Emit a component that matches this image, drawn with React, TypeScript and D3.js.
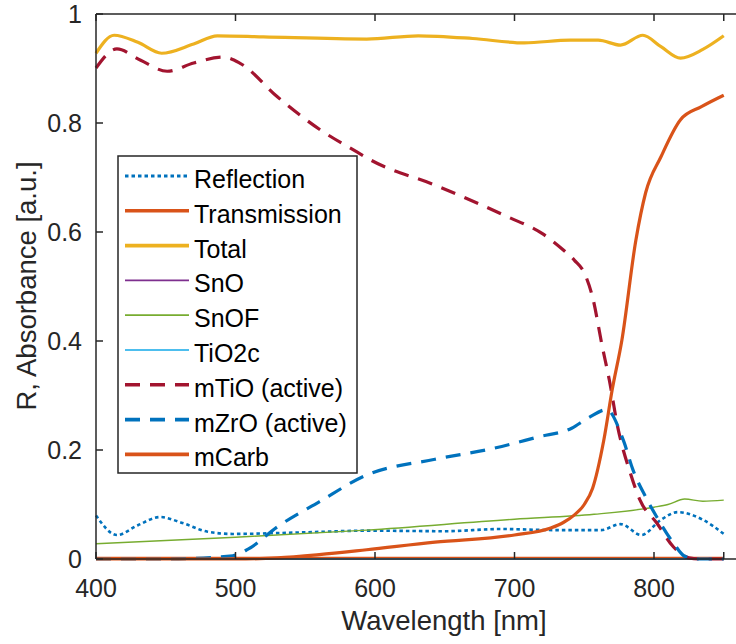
import * as d3 from "d3"

// wavelength grids (nm) and values
const totalX = [400, 413, 430, 447, 470, 487, 520, 594, 631, 670, 707, 740, 760, 776, 792, 805, 819, 835, 850]
const totalY = [0.928, 0.961, 0.948, 0.928, 0.945, 0.96, 0.958, 0.954, 0.96, 0.955, 0.947, 0.952, 0.952, 0.943, 0.961, 0.94, 0.919, 0.935, 0.96]

const mTiOX = [400, 415, 432, 451, 470, 491, 503, 530, 561, 587, 597, 643, 695, 720, 735, 743, 750, 756, 763, 768, 774, 783, 790, 802, 814, 825, 832, 850]
const mTiOY = [0.901, 0.936, 0.915, 0.895, 0.91, 0.921, 0.91, 0.848, 0.787, 0.747, 0.732, 0.686, 0.628, 0.597, 0.567, 0.548, 0.525, 0.48, 0.389, 0.328, 0.242, 0.158, 0.108, 0.066, 0.022, 0.002, 0, 0]

const mZrOX = [400, 450, 498, 509, 530, 560, 594, 643, 683, 717, 741, 753, 766, 778, 785, 794, 802, 814, 822, 830, 850]
const mZrOY = [0, 0, 0.006, 0.018, 0.059, 0.105, 0.154, 0.183, 0.202, 0.224, 0.24, 0.259, 0.274, 0.218, 0.163, 0.114, 0.077, 0.029, 0.005, 0, 0]

const mCarbX = [400, 500, 530, 560, 594, 643, 700, 726, 735, 743, 750, 756, 764, 770, 777, 787, 794, 805, 819, 834, 850]
const mCarbY = [0, 0, 0.002, 0.008, 0.017, 0.031, 0.044, 0.057, 0.067, 0.081, 0.1, 0.13, 0.218, 0.31, 0.402, 0.585, 0.672, 0.738, 0.806, 0.83, 0.851]

const reflX = [400, 415, 430, 446, 462, 480, 498, 550, 594, 650, 690, 730, 762, 776, 791, 805, 817, 835, 850]
const reflY = [0.08, 0.044, 0.062, 0.077, 0.066, 0.05, 0.046, 0.049, 0.052, 0.051, 0.055, 0.053, 0.053, 0.064, 0.044, 0.072, 0.086, 0.072, 0.046]

const snofX = [400, 500, 594, 700, 757, 800, 810, 822, 835, 850]
const snofY = [0.028, 0.04, 0.053, 0.073, 0.082, 0.095, 0.1, 0.11, 0.106, 0.108]

const flatX = [400, 850]
const transY = [0.001, 0.001]
const snoY = [0, 0]
const tio2cY = [0, 0]

const xTicks = [400, 500, 600, 700, 800, 850]
const xTickLabels = ["400", "500", "600", "700", "800", ""]
const yTicks = [0, 0.2, 0.4, 0.6, 0.8, 1]
const yTickLabels = ["0", "0.2", "0.4", "0.6", "0.8", "1"]

type Series = {
    name: string
    xs: number[]
    ys: number[]
    color: string
    width: number
    dash?: string
}

const series: Series[] = [
    { name: "Reflection", xs: reflX, ys: reflY, color: "#0072BD", width: 2.6, dash: "3.5 3" },
    { name: "Transmission", xs: flatX, ys: transY, color: "#D95319", width: 3.2 },
    { name: "Total", xs: totalX, ys: totalY, color: "#EDB120", width: 3.2 },
    { name: "SnO", xs: flatX, ys: snoY, color: "#7E2F8E", width: 1.2 },
    { name: "SnOF", xs: snofX, ys: snofY, color: "#77AC30", width: 1.4 },
    { name: "TiO2c", xs: flatX, ys: tio2cY, color: "#4DBEEE", width: 1.4 },
    { name: "mTiO (active)", xs: mTiOX, ys: mTiOY, color: "#A2142F", width: 3.2, dash: "15 10" },
    { name: "mZrO (active)", xs: mZrOX, ys: mZrOY, color: "#0072BD", width: 3.2, dash: "15 10" },
    { name: "mCarb", xs: mCarbX, ys: mCarbY, color: "#D95319", width: 3.2 },
]

const W = 736
const H = 644
const left = 96
const top = 14
const bottom = 559
const font = "'Liberation Sans', Arial, Helvetica, sans-serif"
const axisColor = "#262626"

export default function App() {
    const x = d3.scaleLinear().domain([400, 900]).range([left, left + 697.5])
    const y = d3.scaleLinear().domain([0, 1]).range([bottom, top])

    const line = d3
        .line<[number, number]>()
        .x((d) => x(d[0]))
        .y((d) => y(d[1]))
        .curve(d3.curveMonotoneX)

    const legX = 118
    const legY = 156
    const legW = 239
    const legH = 317
    const rowY = (i: number) => 176 + i * 34.8

    return (
        <div style={{ position: "absolute", left: 0, top: 0 }}>
            <svg width={W} height={H} style={{ display: "block", background: "#fff" }}>
                <rect x={0} y={0} width={W} height={H} fill="#fff" />

                {series.map((s) => (
                    <path
                        key={s.name}
                        d={line(s.xs.map((v, i) => [v, s.ys[i]] as [number, number])) ?? ""}
                        fill="none"
                        stroke={s.color}
                        strokeWidth={s.width}
                        strokeDasharray={s.dash}
                        strokeLinejoin="round"
                    />
                ))}

                {/* axes box */}
                <line x1={left} x2={W} y1={top} y2={top} stroke={axisColor} strokeWidth={1.5} />
                <line x1={left} x2={W} y1={bottom} y2={bottom} stroke={axisColor} strokeWidth={1.5} />
                <line x1={left} x2={left} y1={top} y2={bottom} stroke={axisColor} strokeWidth={1.5} />

                {xTicks.map((t, i) => (
                    <g key={"xt" + t}>
                        <line x1={x(t)} x2={x(t)} y1={bottom} y2={bottom - 7} stroke={axisColor} strokeWidth={1.5} />
                        <line x1={x(t)} x2={x(t)} y1={top} y2={top + 7} stroke={axisColor} strokeWidth={1.5} />
                        <text x={x(t)} y={597} textAnchor="middle" fontFamily={font} fontSize={25} fill={axisColor}>
                            {xTickLabels[i]}
                        </text>
                    </g>
                ))}

                {yTicks.map((t, i) => (
                    <g key={"yt" + t}>
                        <line x1={left} x2={left + 7} y1={y(t)} y2={y(t)} stroke={axisColor} strokeWidth={1.5} />
                        <text
                            x={82}
                            y={y(t)}
                            textAnchor="end"
                            dominantBaseline="central"
                            fontFamily={font}
                            fontSize={25}
                            fill={axisColor}
                        >
                            {yTickLabels[i]}
                        </text>
                    </g>
                ))}

                <text x={444} y={630} textAnchor="middle" fontFamily={font} fontSize={27.5} fill={axisColor}>
                    Wavelength [nm]
                </text>
                <text
                    transform="translate(36,286) rotate(-90)"
                    textAnchor="middle"
                    fontFamily={font}
                    fontSize={27.5}
                    fill={axisColor}
                >
                    R, Absorbance [a.u.]
                </text>

                {/* legend */}
                <rect x={legX} y={legY} width={legW} height={legH} fill="#fff" stroke={axisColor} strokeWidth={1.5} />
                {series.map((s, i) => (
                    <g key={"leg" + s.name}>
                        <line
                            x1={125}
                            x2={189}
                            y1={rowY(i)}
                            y2={rowY(i)}
                            stroke={s.color}
                            strokeWidth={s.width + 0.4}
                            strokeDasharray={s.dash}
                        />
                        <text
                            x={194}
                            y={rowY(i) + 3}
                            dominantBaseline="central"
                            fontFamily={font}
                            fontSize={25}
                            fill="#000"
                        >
                            {s.name}
                        </text>
                    </g>
                ))}
            </svg>
        </div>
    )
}
